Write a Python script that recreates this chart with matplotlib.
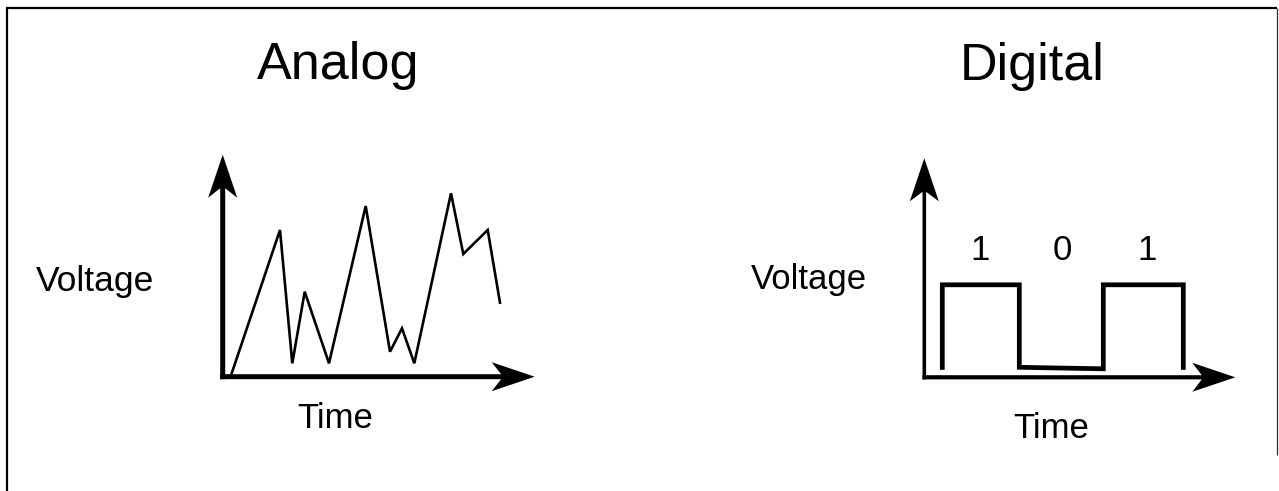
import matplotlib
matplotlib.use("Agg")
import matplotlib.pyplot as plt

plt.rcParams['font.family'] = ['Liberation Sans', 'DejaVu Sans']

# analog signal (time, voltage), 1 unit = 10 px
analog_t = [0.9, 5.73, 6.96, 8.2, 10.63, 14.3, 16.73, 17.93, 19.16, 22.83, 24.06, 26.5, 27.73]
analog_v = [0.34, 14.67, 1.34, 8.5, 1.34, 17.07, 2.5, 4.84, 1.34, 18.34, 12.27, 14.67, 7.4]

# digital signal
digital_t = [1.8, 1.8, 9.5, 9.5, 17.9, 17.9, 25.9, 25.9]
digital_v = [0.75, 9.25, 9.25, 1.0, 0.85, 9.25, 9.25, 0.75]
bit_labels = ['1', '0', '1']
bit_t = [5.6, 13.8, 22.3]
bit_v = 12.7

W, H = 1279, 491
fig = plt.figure(figsize=(W / 100, H / 100), dpi=100)

bg = fig.add_axes([0, 0, 1, 1])
bg.set_xlim(0, W)
bg.set_ylim(H, 0)
bg.axis('off')
# frame, open at the bottom
bg.plot([7, 7], [H, 8], color='black', lw=1.6, solid_capstyle='butt')
bg.plot([6, 1276.5], [8, 8], color='black', lw=1.6, solid_capstyle='butt')
bg.plot([1276.5, 1276.5], [8, 455], color='#333333', lw=0.9, solid_capstyle='butt')


def panel(ox, oy, x0=-5, x1=35, y0=-4, y1=25):
    # axes whose data origin sits at pixel (ox, oy), 10 px per unit
    left = ox + x0 * 10
    top = oy - y1 * 10
    w = (x1 - x0) * 10
    h = (y1 - y0) * 10
    ax = fig.add_axes([left / W, (H - top - h) / H, w / W, h / H])
    ax.set_xlim(x0, x1)
    ax.set_ylim(y0, y1)
    ax.patch.set_alpha(0)
    ax.axis('off')
    return ax


def axis_arrows(ax, xlen, ylen, wx, wy):
    head = dict(head_width=2.9, head_length=4.3, overhang=0.22,
                length_includes_head=True, color='black', lw=0)
    ax.arrow(-wy / 2, 0, xlen + wy / 2, 0, width=wx, **head)
    ax.arrow(0, -wx / 2, 0, ylen + wx / 2, width=wy, **head)


# Analog
a = panel(222.7, 376.7)
axis_arrows(a, 31.2, 22.2, 0.5, 0.5)
a.plot(analog_t, analog_v, color='black', lw=1.9, solid_joinstyle='miter')

# Digital
d = panel(924.3, 377.3)
axis_arrows(d, 31.1, 21.9, 0.42, 0.36)
d.plot(digital_t, digital_v, color='black', lw=3.4, solid_joinstyle='miter',
       solid_capstyle='butt')
for lab, t in zip(bit_labels, bit_t):
    d.text(t, bit_v, lab, fontsize=25, ha='center', va='center')

# texts
bg.text(338, 79, 'Analog', fontsize=37.5, ha='center', va='baseline')
bg.text(1032, 80, 'Digital', fontsize=37.5, ha='center', va='baseline')
bg.text(95, 291.5, 'Voltage', fontsize=25.5, ha='center', va='baseline')
bg.text(809, 288.5, 'Voltage', fontsize=25, ha='center', va='baseline')
bg.text(335.5, 428.5, 'Time', fontsize=25, ha='center', va='baseline')
bg.text(1051, 438.5, 'Time', fontsize=25, ha='center', va='baseline')

fig.savefig('out.png', dpi=100)
